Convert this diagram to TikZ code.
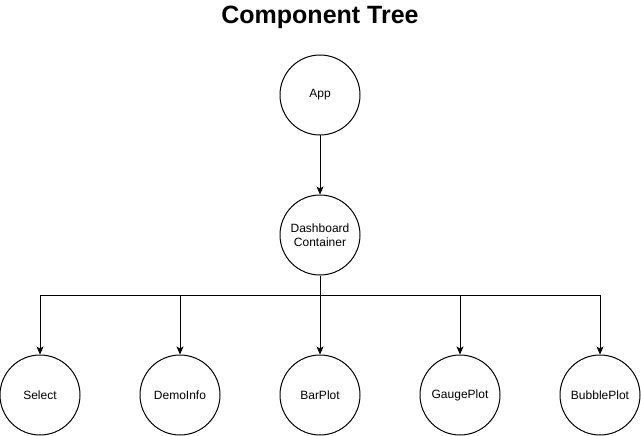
\documentclass[tikz,border=0pt]{standalone}
\usepackage{fontspec}
\setmainfont{Liberation Sans}
\usetikzlibrary{arrows.meta}
\begin{document}
\begin{tikzpicture}[x=1pt,y=-1pt,
  comp/.style={circle,draw=black,line width=1pt,minimum size=80pt,inner sep=0pt,align=center,font=\fontsize{12}{14}\selectfont},
  conn/.style={line width=1pt,-{Stealth[length=8pt,width=7pt,inset=2pt]}}]
\useasboundingbox (0,0) rectangle (641,436);
\node[font=\fontsize{25}{30}\selectfont\bfseries] (title) at (320,17) {Component Tree};
\node[comp] (app) at (320,95) {App};
\node[comp] (dash) at (320,235) {Dashboard\\Container};
\node[comp] (sel) at (40,395) {Select};
\node[comp] (demo) at (180,395) {DemoInfo};
\node[comp] (bar) at (320,395) {BarPlot};
\node[comp] (gauge) at (460,395) {GaugePlot};
\node[comp] (bubble) at (600,395) {BubblePlot};
\coordinate (j) at (320,295);
\draw[conn] (app) -- (dash);
\draw[line width=1pt] (dash.south) -- (j);
\foreach \n in {sel,demo,bar,gauge,bubble}{
  \draw[conn] (j) -| (\n.north);
}
\end{tikzpicture}
\end{document}
